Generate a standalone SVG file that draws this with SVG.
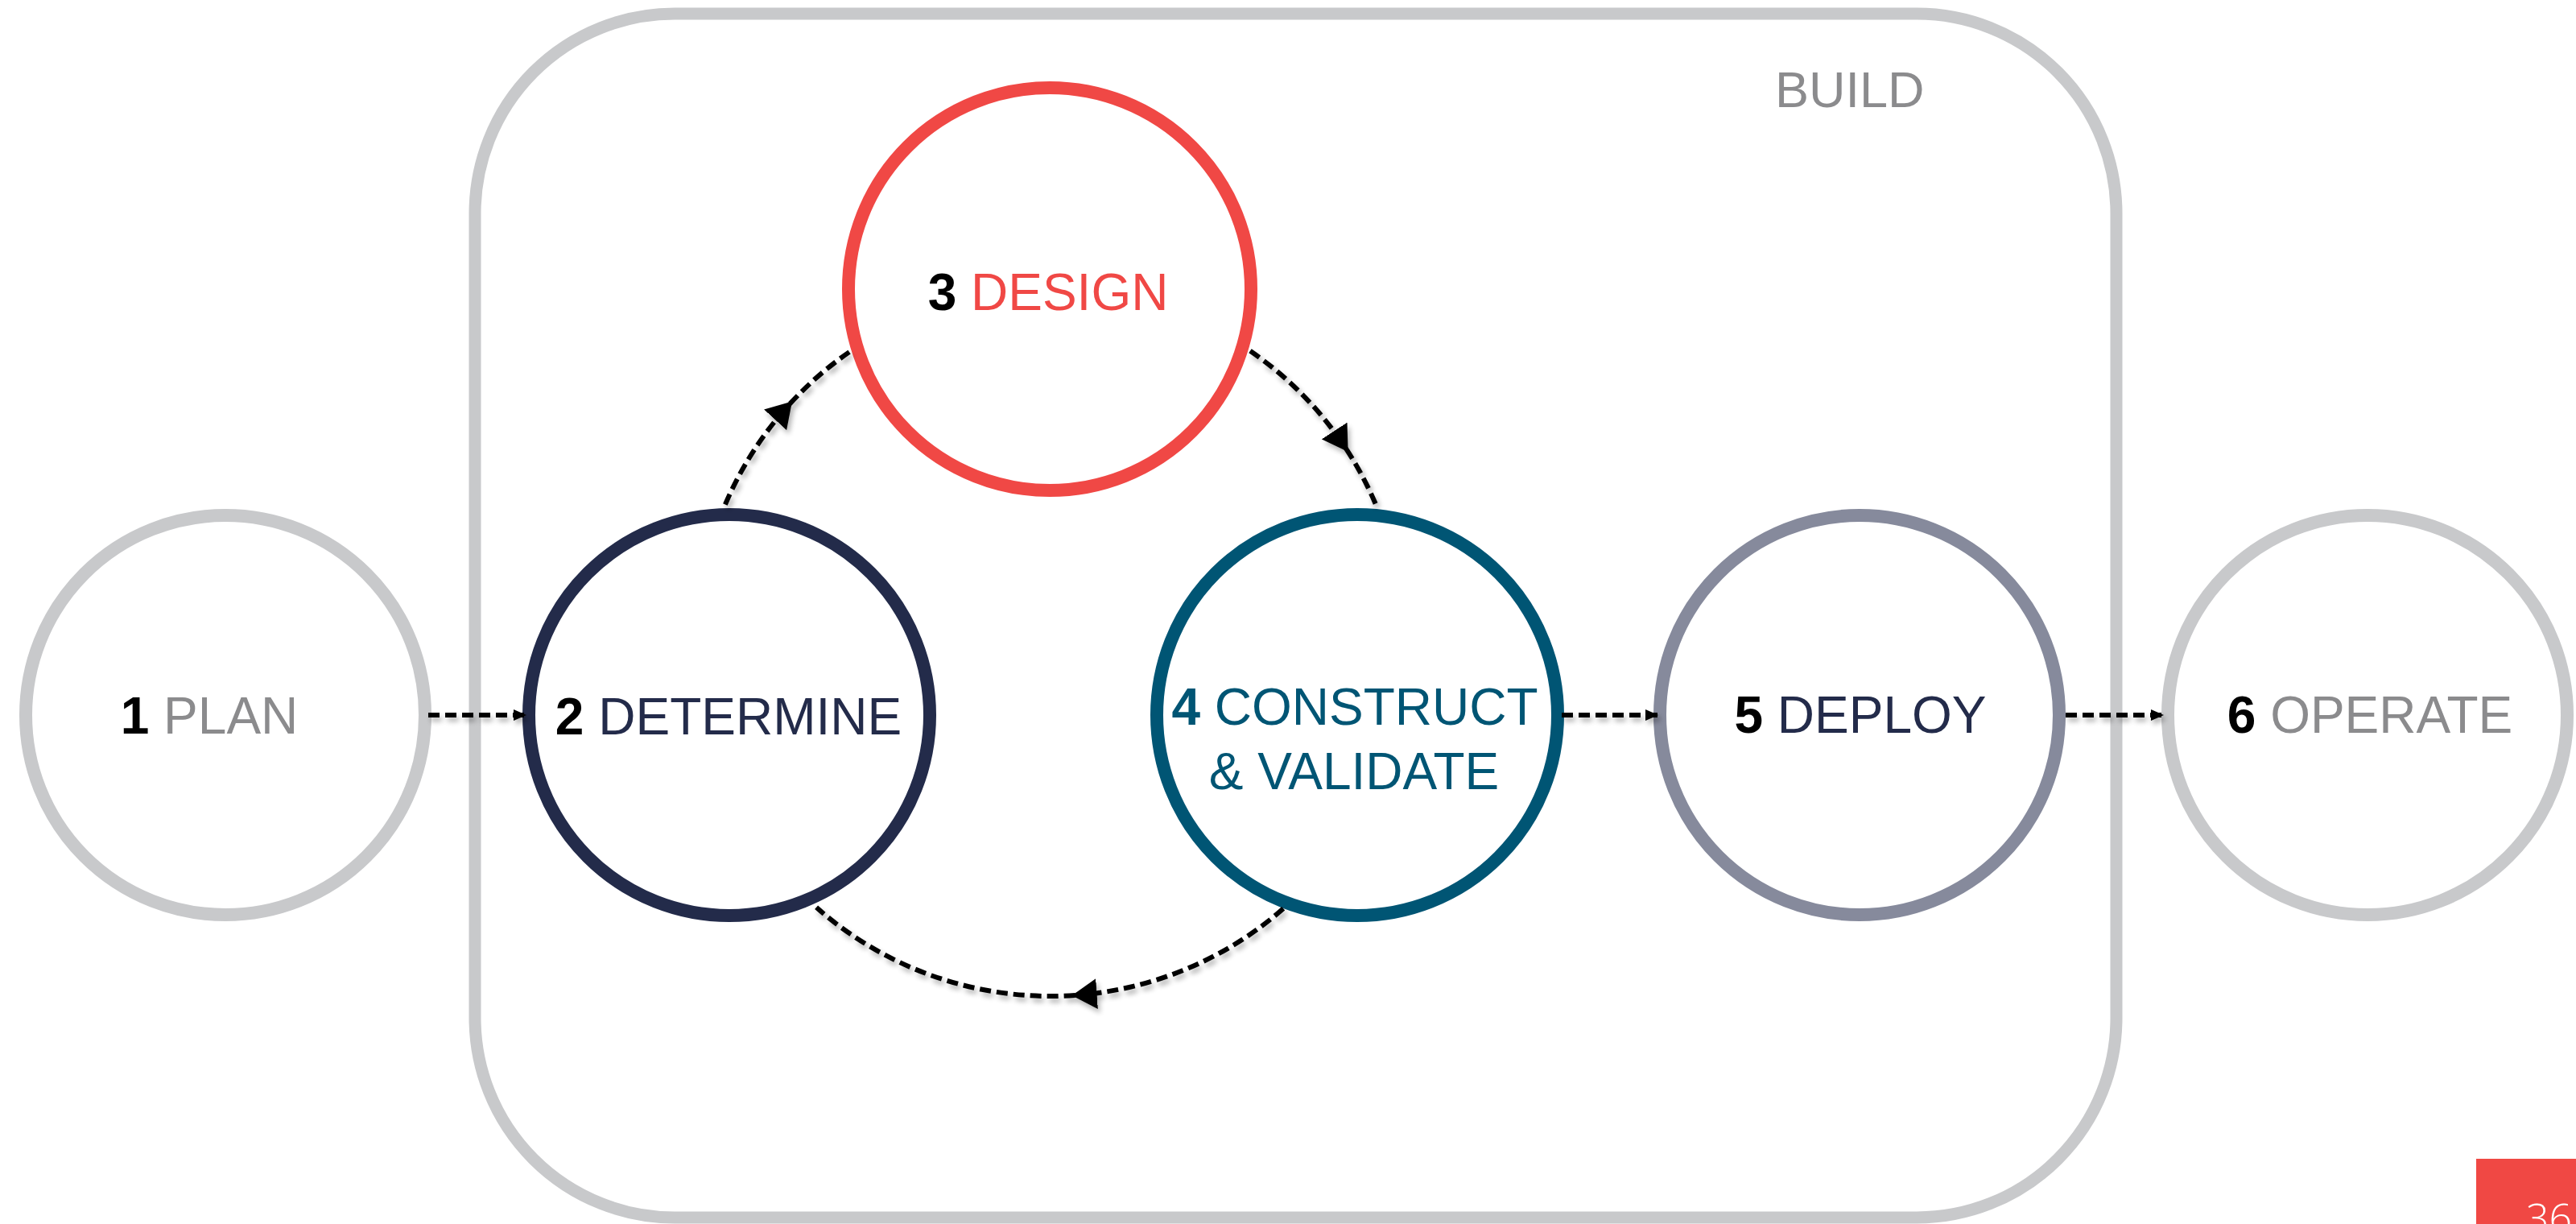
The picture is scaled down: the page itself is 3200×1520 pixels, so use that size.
<svg xmlns="http://www.w3.org/2000/svg" width="3200" height="1520" viewBox="0 0 3200 1520">
  <style>
    .lbl { font-family: "Liberation Sans", Arial, sans-serif; font-size: 64px; text-anchor: middle; }
    .b { font-weight: bold; }
    .ring { fill: #ffffff; stroke-width: 16; }
    .conn { fill: none; stroke: #000000; stroke-width: 6; stroke-dasharray: 14 7; }
  </style>
  <defs>
    <marker id="arcHead" markerUnits="userSpaceOnUse" viewBox="0 0 31 38" refX="27" refY="19" markerWidth="31" markerHeight="38" orient="auto">
      <path d="M0,0 L31,19 L0,38 z" fill="#000000"/>
    </marker>
    <marker id="lineHead" markerUnits="userSpaceOnUse" viewBox="0 0 16 14" refX="16" refY="7" markerWidth="16" markerHeight="14" orient="auto">
      <path d="M0,0 L16,7 L0,14 z" fill="#000000"/>
    </marker>
    <filter id="shadow" filterUnits="userSpaceOnUse" x="0" y="0" width="3200" height="1520">
      <feGaussianBlur in="SourceAlpha" stdDeviation="3"/>
      <feOffset dx="3" dy="5" result="o"/>
      <feComponentTransfer>
        <feFuncA type="linear" slope="0.3"/>
      </feComponentTransfer>
      <feMerge>
        <feMergeNode/>
        <feMergeNode in="SourceGraphic"/>
      </feMerge>
    </filter>
  </defs>

  <rect width="3200" height="1520" fill="#ffffff"/>

  <g id="build">
    <rect x="590" y="17" width="2039" height="1495" rx="248" ry="248" fill="none" stroke="#c8c9cb" stroke-width="15"/>
    <text x="2205" y="133" font-family="Liberation Sans, Arial, sans-serif" font-size="63" fill="#8b8b8d">BUILD</text>
  </g>

  <g id="plan">
    <circle class="ring" cx="280" cy="888" r="248" stroke="#c8c9cb"/>
    <text class="lbl" x="260" y="911" fill="#8b8b8d"><tspan class="b" fill="#000000">1</tspan> PLAN</text>
  </g>

  <g id="determine">
    <circle class="ring" cx="906" cy="888" r="249" stroke="#232b4a"/>
    <text class="lbl" x="905" y="912" fill="#232b4a"><tspan class="b" fill="#000000">2</tspan> DETERMINE</text>
  </g>

  <g id="design">
    <circle class="ring" cx="1304" cy="359" r="250" stroke="#f04845"/>
    <text class="lbl" x="1302" y="385" fill="#f04845"><tspan class="b" fill="#000000">3</tspan> DESIGN</text>
  </g>

  <g id="construct">
    <circle class="ring" cx="1686" cy="888" r="249" stroke="#005574"/>
    <text class="lbl" x="1683" y="900" fill="#005574"><tspan class="b">4</tspan> CONSTRUCT</text>
    <text class="lbl" x="1682" y="980" fill="#005574">&amp; VALIDATE</text>
  </g>

  <g id="deploy">
    <circle class="ring" cx="2310" cy="888" r="248" stroke="#868a9c"/>
    <text class="lbl" x="2311" y="910" fill="#232b4a"><tspan class="b" fill="#000000">5</tspan> DEPLOY</text>
  </g>

  <g id="operate">
    <circle class="ring" cx="2941" cy="888" r="248" stroke="#c8c9cb"/>
    <text class="lbl" x="2944" y="910" fill="#8b8b8d"><tspan class="b" fill="#000000">6</tspan> OPERATE</text>
  </g>

  <g id="connectors" filter="url(#shadow)">
    <!-- 1 -> 2 -->
    <path class="conn" d="M532,888 L654,888" marker-end="url(#lineHead)"/>
    <!-- 4 -> 5 -->
    <path class="conn" d="M1940,888 L2060,888" marker-end="url(#lineHead)"/>
    <!-- 5 -> 6 -->
    <path class="conn" d="M2566,888 L2688,888" marker-end="url(#lineHead)"/>
    <!-- 2 -> 3 -->
    <path class="conn" d="M900.9,626.5 A439,439 0 0 1 981.3,501.4" marker-end="url(#arcHead)"/>
    <path class="conn" d="M981.3,501.4 A439,439 0 0 1 1056.4,436.2"/>
    <!-- 3 -> 4 -->
    <path class="conn" d="M1553,435.8 A439,439 0 0 1 1672.4,557.6" marker-end="url(#arcHead)"/>
    <path class="conn" d="M1672.4,557.6 A439,439 0 0 1 1709.4,627.2"/>
    <!-- 4 -> 2 -->
    <path class="conn" d="M1594.2,1128.3 A439,439 0 0 1 1335.6,1236" marker-end="url(#arcHead)"/>
    <path class="conn" d="M1335.6,1236 A439,439 0 0 1 1014.1,1126.8"/>
  </g>

  <g id="page-number">
    <rect x="3076" y="1439" width="124" height="81" fill="#f04844"/>
    <text x="3138" y="1531" font-family="Open Sans, Noto Sans, sans-serif" font-weight="300" font-size="50" fill="#ffffff">36</text>
  </g>
</svg>
